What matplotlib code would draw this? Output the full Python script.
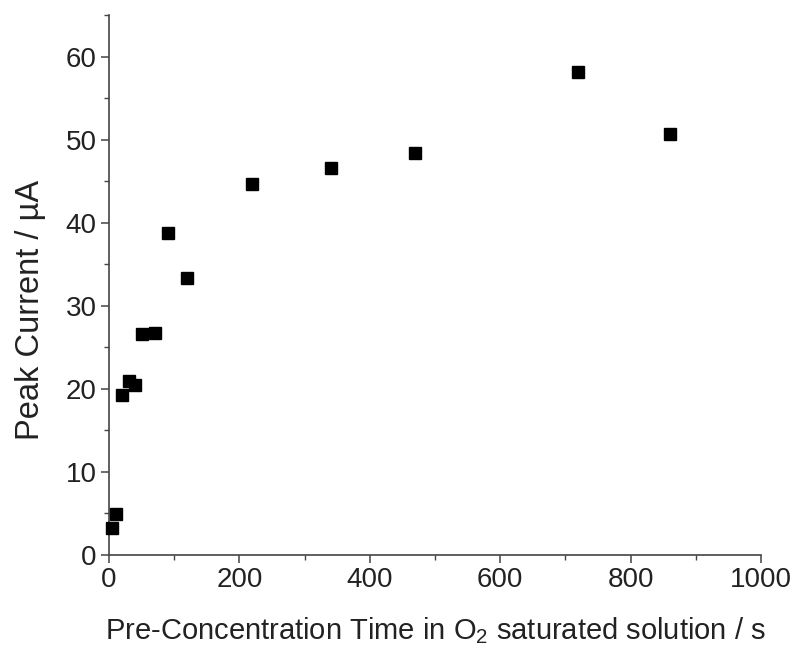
import matplotlib
matplotlib.use("Agg")
import matplotlib.pyplot as plt
from matplotlib.ticker import MultipleLocator

time_s = [5, 10, 20, 30, 40, 50, 70, 90, 120, 220, 340, 470, 720, 860]
peak_current = [3.3, 4.9, 19.2, 21.0, 20.5, 26.6, 26.7, 38.7, 33.3, 44.6, 46.6, 48.4, 58.1, 50.7]

plt.rcParams['font.family'] = ['Liberation Sans', 'DejaVu Sans']

fig = plt.figure(figsize=(7.98, 6.51), dpi=100)
ax = fig.add_axes([0.1366, 0.1475, 0.817, 0.8295])
ax.plot(time_s, peak_current, linestyle='none', marker='s', markersize=8.5,
        color='black', clip_on=False, zorder=3)

ax.set_xlim(0, 1000)
ax.set_ylim(0, 65)
ax.xaxis.set_major_locator(MultipleLocator(200))
ax.xaxis.set_minor_locator(MultipleLocator(100))
ax.yaxis.set_major_locator(MultipleLocator(10))
ax.yaxis.set_minor_locator(MultipleLocator(5))
for s in ['top', 'right']:
    ax.spines[s].set_visible(False)
for s in ['left', 'bottom']:
    ax.spines[s].set_color('#444444')
    ax.spines[s].set_linewidth(1.2)
ax.tick_params(which='major', direction='out', length=6, width=1.1, color='#444444',
               labelsize=20, labelcolor='#222222', pad=3)
ax.tick_params(which='minor', direction='out', length=3.5, width=1.0, color='#444444')
ax.set_xlabel(r'Pre-Concentration Time in $\mathregular{O_2}$ saturated solution / s',
              fontsize=21, color='#222222', labelpad=16)
ax.set_ylabel('Peak Current / µA', fontsize=23.5, color='#222222')
ax.yaxis.set_label_coords(-0.097, 0.454)

fig.savefig('out.png', dpi=100)
